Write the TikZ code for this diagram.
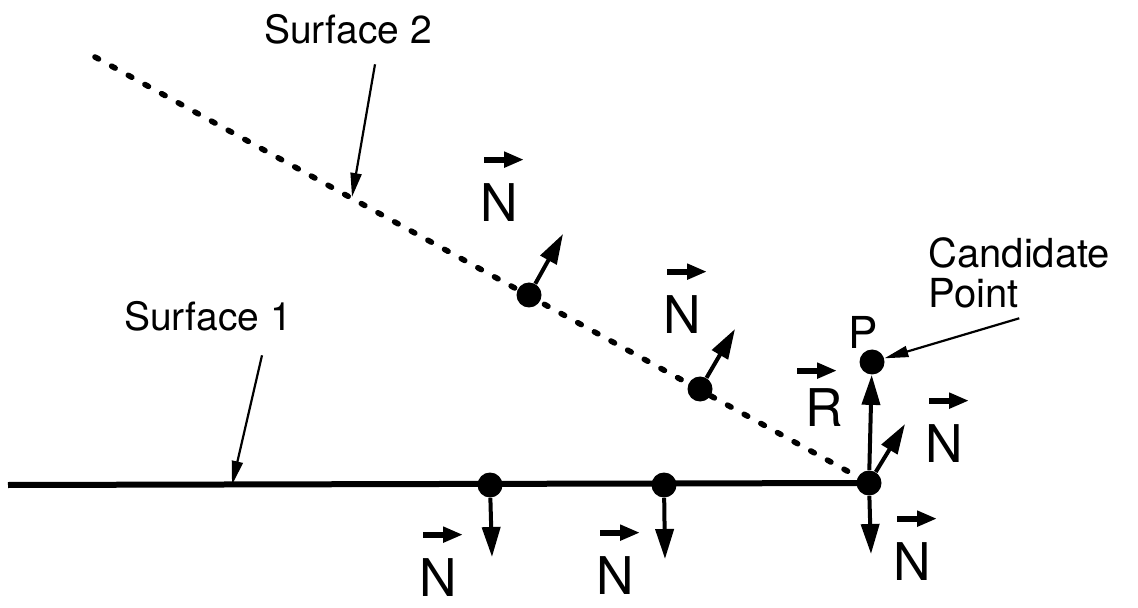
\documentclass[tikz,border=0pt]{standalone}
\usepackage{fontspec}
\setmainfont{TeX Gyre Heros}
\usetikzlibrary{arrows.meta}

\tikzset{
  ptdot/.style={circle, fill, inner sep=0pt, minimum size=12.5pt},
  surf/.style={line width=3pt},
  surfdash/.style={line width=2.8pt, line cap=round, dash pattern=on 2pt off 7.5pt},
  nrm/.style={line width=2pt, -{Triangle[length=15pt,width=9pt]}},
  callout/.style={line width=1.1pt, -{Triangle[length=12pt,width=5.5pt]}},
  vecarrow/.style={line width=3pt, -{Triangle[length=10pt,width=7.5pt]}},
  vlabel/.style={inner sep=0pt, font=\fontsize{26}{26}\selectfont},
  txt/.style={inner sep=0pt, font=\fontsize{19.5}{22}\selectfont}
}

\begin{document}
\begin{tikzpicture}[x=0.5pt, y=-0.5pt]
  \useasboundingbox (0,0) rectangle (1138,608);

  % surface points
  \node[ptdot] (a1) at (490,485) {};
  \node[ptdot] (a2) at (664,485) {};
  \node[ptdot] (c)  at (869,483) {};
  \node[ptdot] (b1) at (529,295) {};
  \node[ptdot] (b2) at (700,389) {};
  \node[ptdot] (p)  at (872,362) {};

  % surfaces
  \coordinate (s1) at (8,485);
  \coordinate (s2) at (95,57);
  \draw[surf] (s1) -- (c.center);
  \draw[surfdash] (s2) -- (c.center);

  % normal tips
  \coordinate (nb1) at (563,234);
  \coordinate (nb2) at (735,329);
  \coordinate (nc)  at (905,424);
  \coordinate (dc)  at (871,554);
  \coordinate (da1) at (492,557);
  \coordinate (da2) at (665,559);

  \draw[nrm] (b1) -- (nb1);
  \draw[nrm] (b2) -- (nb2);
  \draw[nrm] (c) -- (nc);
  \draw[nrm] (c) -- (dc);
  \draw[nrm] (a1) -- (da1);
  \draw[nrm] (a2) -- (da2);
  \draw[nrm] (c) -- (p);

  % vector labels
  \node[vlabel] (v1) at (499,203) {N};
  \node[vlabel] (v2) at (682,315) {N};
  \node[vlabel] (v3) at (944,444) {N};
  \node[vlabel] (v4) at (912,562) {N};
  \node[vlabel] (v5) at (438,578) {N};
  \node[vlabel] (v6) at (615,576) {N};
  \node[vlabel] (r) at (824,408) {R};
  \foreach \v in {v1,v2,v3,v4,v5,v6}
    \draw[vecarrow] ([xshift=-7.5pt,yshift=12pt]\v.north) -- ++(20pt,0);
  \draw[vecarrow] ([xshift=-13.5pt,yshift=9pt]r.north) -- ++(20pt,0);

  \node[vlabel, font=\fontsize{22}{22}\selectfont] (plab) at (863,332) {P};

  % callouts
  \node[txt] (lab2) at (348,29) {Surface 2};
  \node[txt] (lab1) at (208,316) {Surface 1};
  \node[txt, anchor=north west, align=left, font=\fontsize{20}{20}\selectfont] (cand) at (928,237) {Candidate\\Point};

  \coordinate (t2) at (352,197);
  \coordinate (t1) at (232,485);
  \draw[callout] ([xshift=13.5pt,yshift=-10pt]lab2.south) -- (t2);
  \draw[callout] ([xshift=27pt,yshift=-12pt]lab1.south) -- (t1);
  \draw[callout] ([yshift=-5pt]cand.south) -- (p);
\end{tikzpicture}
\end{document}
